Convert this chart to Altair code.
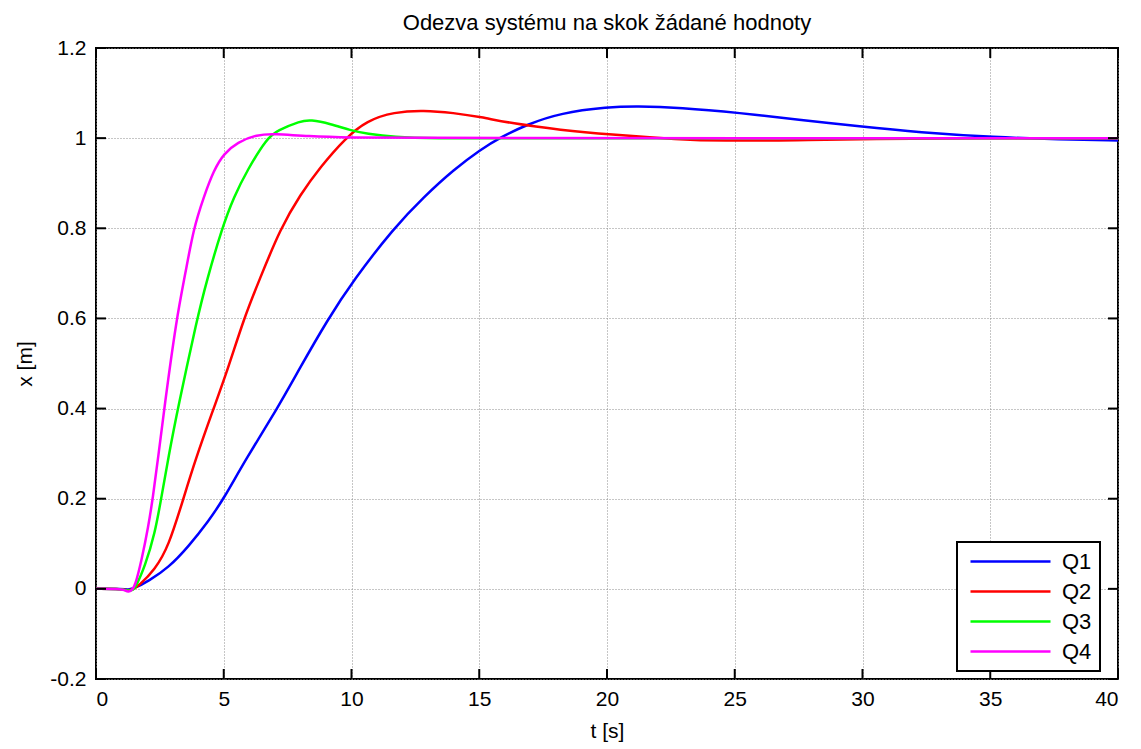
import altair as alt
import pandas as pd

# Step responses of the closed loop for four controller settings
series_names = ["Q1", "Q2", "Q3", "Q4"]
series_colors = ["#0000ff", "#ff0000", "#00ff00", "#ff00ff"]

q1_t = [0, 1.05, 1.25, 1.5, 2.05, 2.84, 3.62, 4.4, 5.0, 5.84, 7.1, 7.95, 9.05, 10.08,
        11.66, 12.84, 14.0, 15.06, 15.84, 16.86, 18.18, 20.05, 21.14, 22.86, 25.2,
        27.5, 29.9, 32.2, 35.2, 37.7, 40]
q1_x = [0, 0, -0.002, 0.001, 0.017, 0.047, 0.094, 0.15, 0.2, 0.286, 0.4, 0.487, 0.596, 0.685,
        0.801, 0.87, 0.93, 0.975, 1.002, 1.03, 1.056, 1.069, 1.071, 1.068, 1.056,
        1.041, 1.026, 1.013, 1.002, 0.997, 0.995]

q2_t = [0, 1.05, 1.25, 1.45, 1.66, 2.31, 2.84, 3.42, 3.88, 4.6, 5.16, 5.79, 6.39, 7.22,
        8.0, 8.78, 9.76, 10.6, 11.66, 12.82, 14.0, 15.06, 16.24, 18.2, 20.05, 22.86,
        24.4, 27.5, 30.15, 35.2, 40]
q2_x = [0, 0, -0.004, -0.001, 0.006, 0.043, 0.094, 0.2, 0.285, 0.4, 0.487, 0.6, 0.685, 0.8,
        0.875, 0.936, 1.0, 1.039, 1.058, 1.062, 1.056, 1.047, 1.033, 1.018, 1.008, 0.997,
        0.994, 0.995, 0.998, 1.0, 1.0]

q3_t = [0, 1.05, 1.25, 1.45, 1.53, 1.92, 2.31, 2.55, 2.84, 3.2, 3.96, 4.34, 4.93,
        5.4, 5.92, 6.69, 7.1, 8.0, 8.39, 9.18, 9.96, 10.6, 11.66, 13.2, 16.0, 40]
q3_x = [0, 0, -0.005, -0.002, 0.001, 0.05, 0.124, 0.2, 0.294, 0.4, 0.6, 0.685, 0.8,
        0.87, 0.929, 1.0, 1.017, 1.038, 1.041, 1.032, 1.017, 1.01, 1.002, 0.999, 1.0, 1.0]

q4_t = [0, 1.05, 1.15, 1.27, 1.4, 1.53, 1.79, 2.05, 2.22, 2.44, 2.67, 3.15, 3.5,
        3.82, 4.22, 4.61, 5.01, 5.53, 6.31, 6.97, 8.27, 10.0, 12.0, 40]
q4_x = [0, 0, -0.004, -0.007, -0.003, 0.006, 0.065, 0.139, 0.2, 0.294, 0.4, 0.6, 0.7,
        0.8, 0.87, 0.929, 0.966, 0.991, 1.008, 1.01, 1.004, 1.001, 1.0, 1.0]

x_ticks = [0, 5, 10, 15, 20, 25, 30, 35, 40]
y_ticks = [-0.2, 0, 0.2, 0.4, 0.6, 0.8, 1, 1.2]

rows = []
for name, ts, xs in zip(series_names, [q1_t, q2_t, q3_t, q4_t], [q1_x, q2_x, q3_x, q4_x]):
    for t, v in zip(ts, xs):
        rows.append({"series": name, "t": t, "x": v})
df = pd.DataFrame(rows)

W, H = 1022, 631
FONT = "Liberation Sans"
TICK = 10

x_scale = alt.Scale(domain=[0, 40], nice=False, zero=False)
y_scale = alt.Scale(domain=[-0.2, 1.2], nice=False, zero=False)

common_axis = dict(
    grid=True, gridColor="#8c8c8c", gridDash=[1, 2], gridWidth=1,
    ticks=False, tickSize=0, domain=False,
    labelFont=FONT, labelFontSize=21, labelColor="black",
    titleFont=FONT, titleFontSize=21, titleColor="black", titleFontWeight="normal",
)

x_enc = alt.X("t:Q", scale=x_scale, title="t [s]",
              axis=alt.Axis(values=x_ticks, labelPadding=9, titlePadding=11, **common_axis))
y_enc = alt.Y("x:Q", scale=y_scale, title="x [m]",
              axis=alt.Axis(values=y_ticks, labelExpr="'' + datum.value",
                            labelPadding=10, titlePadding=14, **common_axis))

lines = alt.Chart(df).mark_line(interpolate="basis", strokeWidth=2.5, clip=True).encode(
    x=x_enc,
    y=y_enc,
    color=alt.Color(
        "series:N",
        scale=alt.Scale(domain=series_names, range=series_colors),
        legend=alt.Legend(
            title=None, orient="none", legendX=861, legendY=494,
            symbolType="M-4,0H4", symbolSize=400, symbolStrokeWidth=2.5, symbolOffset=34,
            labelFont=FONT, labelFontSize=22, labelColor="black", labelOffset=40,
            padding=8, rowPadding=7, strokeColor="black", fillColor="white",
            cornerRadius=0,
        ),
    ),
)

# inward tick marks on all four sides of the frame
xt = pd.DataFrame({"t": x_ticks})
yt = pd.DataFrame({"x": y_ticks})

tick_bottom = alt.Chart(xt).mark_rule(color="black", strokeWidth=2).encode(
    x=x_enc, y=alt.value(H), y2=alt.value(H - TICK))
tick_top = alt.Chart(xt).mark_rule(color="black", strokeWidth=2).encode(
    x=x_enc, y=alt.value(0), y2=alt.value(TICK))
tick_left = alt.Chart(yt).mark_rule(color="black", strokeWidth=2).encode(
    y=y_enc, x=alt.value(0), x2=alt.value(TICK))
tick_right = alt.Chart(yt).mark_rule(color="black", strokeWidth=2).encode(
    y=y_enc, x=alt.value(W), x2=alt.value(W - TICK))

chart = alt.layer(lines, tick_bottom, tick_top, tick_left, tick_right).properties(
    width=W, height=H,
    autosize=alt.AutoSizeParams(type="none"),
    padding={"left": 96, "top": 48, "right": 23, "bottom": 70},
    background="white",
    title=alt.TitleParams(
        "Odezva systému na skok žádané hodnoty",
        font=FONT, fontSize=22, fontWeight="normal", color="black",
        anchor="middle", offset=2,
    ),
).configure_view(stroke="black", strokeWidth=2).configure_legend(strokeWidth=2)

chart.save("out.html", embed_options={"renderer": "svg", "actions": False})
